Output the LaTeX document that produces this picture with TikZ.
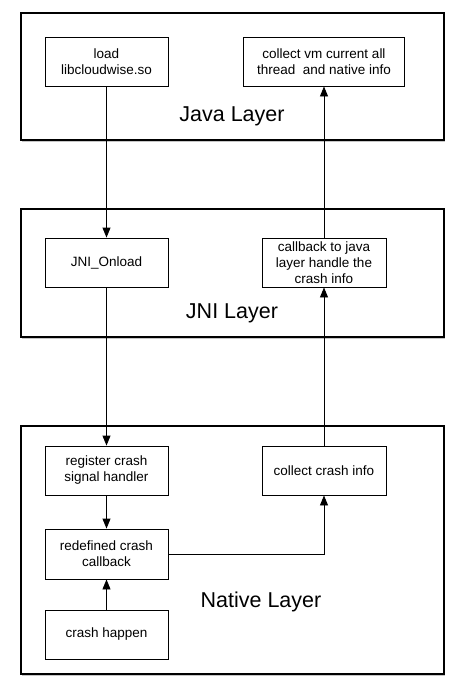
\documentclass[tikz,border=0pt]{standalone}
\usepackage{fontspec}
\setmainfont{Liberation Sans}
\usetikzlibrary{arrows.meta,positioning,shadows}
\tikzset{
layerbox/.style={draw,line width=1.2pt,fill=white,minimum width=423pt,inner sep=0pt,
  drop shadow={shadow xshift=1pt,shadow yshift=-1.5pt,fill=black!45,opacity=.5}},
stepbox/.style={draw,line width=0.9pt,fill=white,minimum height=49pt,inner sep=2pt,align=center,
  font=\fontsize{13.5}{16}\selectfont},
layertitle/.style={font=\fontsize{21.5}{24}\selectfont},
flow/.style={-{Triangle[length=10pt,width=8pt]},line width=0.9pt}
}
\begin{document}
\begin{tikzpicture}[x=1pt,y=-1pt]
\useasboundingbox (0,0) rectangle (466,694);
\node[layerbox,minimum height=127pt] (java) at (232.5,76.5) {};
\node[layerbox,minimum height=128pt] (jni) at (232.5,273) {};
\node[layerbox,minimum height=248pt] (native) at (232.5,550) {};
\node[layertitle] (javatitle) at (232,116) {Java Layer};
\node[layertitle] (jnititle) at (232,313) {JNI Layer};
\node[layertitle] (nativetitle) at (261,602) {Native Layer};
\node[stepbox,minimum width=123pt] (load) at (106.5,61.5) {load\\libcloudwise.so};
\node[stepbox,minimum width=161pt] (collectvm) at (324,61.5) {collect vm current all\\thread~ and native info};
\node[stepbox,minimum width=123pt] (onload) at (106.5,262.5) {JNI\_Onload};
\node[stepbox,minimum width=124pt] (callback) at (324,262.5) {callback to java\\layer handle the\\crash info};
\node[stepbox,minimum width=123pt] (register) at (106.5,470.5) {register crash\\signal handler};
\node[stepbox,minimum width=124pt] (collectcrash) at (324,470.5) {collect crash info};
\node[stepbox,minimum width=123pt,minimum height=50pt] (redefined) at (106.5,554) {redefined crash\\callback};
\node[stepbox,minimum width=123pt] (happen) at (106.5,634.5) {crash happen};
\path[flow]
(load) edge (onload)
(onload) edge (register)
(register) edge (redefined)
(happen) edge (redefined)
(collectcrash) edge (callback)
(callback) edge (collectvm);
\draw[flow] (redefined.east) -| (collectcrash.south);
\end{tikzpicture}
\end{document}
